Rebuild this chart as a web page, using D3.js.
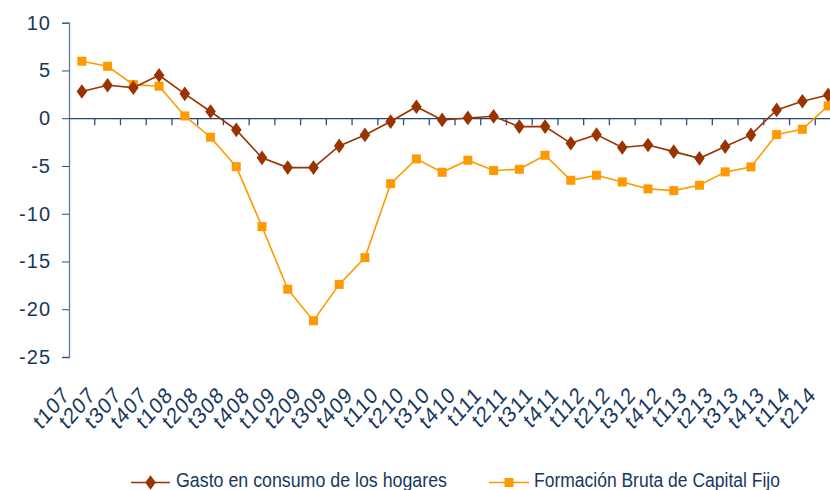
<html>
<head>
	<meta charset="utf-8">
	<style>
		body { margin: 0; background: #ffffff; }
		text { font-family: "Liberation Sans", Arial, sans-serif; fill: #17375e; }
	</style>
</head>
<body>

	<svg id="chart" height="490" width="830"></svg>

	<script src="https://cdnjs.cloudflare.com/ajax/libs/d3/7.8.5/d3.min.js"></script>
	<script>

		var quarters = ["t107","t207","t307","t407","t108","t208","t308","t408",
			"t109","t209","t309","t409","t110","t210","t310","t410",
			"t111","t211","t311","t411","t112","t212","t312","t412",
			"t113","t213","t313","t413","t114","t214"];

		var gastoHogares = [2.8, 3.45, 3.2, 4.5, 2.55, 0.7, -1.22, -4.15,
			-5.17, -5.17, -2.9, -1.75, -0.35, 1.2, -0.18, 0.03,
			0.2, -0.88, -0.88, -2.62, -1.72, -3.07, -2.8, -3.5,
			-4.2, -2.97, -1.75, 0.87, 1.78, 2.44];

		var formacionCapital = [5.97, 5.44, 3.52, 3.35, 0.24, -1.99, -5.07, -11.35,
			-17.9, -21.2, -17.4, -14.6, -6.85, -4.26, -5.66, -4.4,
			-5.48, -5.35, -3.88, -6.5, -5.97, -6.67, -7.4, -7.58,
			-7.02, -5.62, -5.1, -1.71, -1.16, 1.29];

		var yTicks = [10, 5, 0, -5, -10, -15, -20, -25];

		var seriesNames = ["Gasto en consumo de los hogares", "Formación Bruta de Capital Fijo"];

		var brown = "#993300", orange = "#ff9900", navy = "#17375e";
		var stretch = 1.16; // the original text is drawn a bit tall

		var svg = d3.select("#chart");

		// plot runs past the right edge, like the cropped original
		var x = d3.scaleBand().domain(quarters).range([69, 841]);
		var y = d3.scaleLinear().domain([-25, 10]).range([357, 22.7]);

		// y axis
		var yAxis = svg.append("g").attr("transform", "translate(69,0)")
			.call(d3.axisLeft(y).tickValues(yTicks).tickSize(7).tickPadding(11).tickFormat(d3.format("d")));
		yAxis.select(".domain").attr("stroke", "#5a7ca3").attr("stroke-width", 1.3);
		yAxis.selectAll(".tick line").attr("stroke", "#2a4d7a");
		yAxis.selectAll(".tick text").style("font-size", "20px").style("letter-spacing", "1px").attr("fill", navy)
			.text(function(d){ return d < 0 ? "-" + Math.abs(d) : d; });

		// category axis sitting on zero
		var xAxis = svg.append("g").attr("transform", "translate(0," + y(0) + ")")
			.call(d3.axisBottom(x).tickSize(0).tickFormat(""));
		xAxis.select(".domain").attr("stroke", "#1f4677").attr("stroke-width", 1.3);
		xAxis.selectAll(".tick").remove();
		xAxis.selectAll(".qtick")
			.data(quarters.slice(1))
			.enter()
			.append("line")
			.attr("class", "qtick")
			.attr("x1", function(d){ return x(d); })
			.attr("x2", function(d){ return x(d); })
			.attr("y1", 0).attr("y2", 7)
			.attr("stroke", "#2a4d7a").attr("stroke-width", 1.3);

		// rotated labels at the bottom
		svg.append("g").selectAll("text")
			.data(quarters)
			.enter()
			.append("text")
			.attr("text-anchor", "end")
			.attr("transform", function(d){ return "translate(" + (x(d) + x.bandwidth()/2 - 11) + ",396) scale(1," + stretch + ") rotate(-45)"; })
			.style("font-size", "19.5px")
			.style("letter-spacing", "1px")
			.text(function(d){ return d; });

		var line = d3.line()
			.x(function(d, i){ return x(quarters[i]) + x.bandwidth()/2; })
			.y(function(d){ return y(d); });

		// Formación line, squares
		svg.append("path").datum(formacionCapital)
			.attr("d", line).attr("fill", "none").attr("stroke", orange).attr("stroke-width", 1.6);
		svg.append("g").selectAll("rect")
			.data(formacionCapital)
			.enter()
			.append("rect")
			.attr("x", function(d, i){ return x(quarters[i]) + x.bandwidth()/2 - 4.5; })
			.attr("y", function(d){ return y(d) - 4.5; })
			.attr("width", 9).attr("height", 9)
			.attr("fill", orange);

		// Gasto line, diamonds
		var diamond = d3.symbol().type(d3.symbolDiamond).size(62);
		svg.append("path").datum(gastoHogares)
			.attr("d", line).attr("fill", "none").attr("stroke", brown).attr("stroke-width", 1.6);
		svg.append("g").selectAll("path")
			.data(gastoHogares)
			.enter()
			.append("path")
			.attr("d", diamond)
			.attr("transform", function(d, i){ return "translate(" + (x(quarters[i]) + x.bandwidth()/2) + "," + y(d) + ") scale(1.25,1)"; })
			.attr("fill", brown);

		// legend
		var legend = svg.append("g");
		legend.append("line").attr("x1", 131).attr("x2", 170).attr("y1", 482.5).attr("y2", 482.5)
			.attr("stroke", brown).attr("stroke-width", 1.6);
		legend.append("path").attr("d", diamond)
			.attr("transform", "translate(150.5,482.5) scale(1.25,1)").attr("fill", brown);
		legend.append("text").attr("transform", "translate(176,487) scale(1," + stretch + ")")
			.style("font-size", "17.8px").text(seriesNames[0]);

		legend.append("line").attr("x1", 489).attr("x2", 529).attr("y1", 482.5).attr("y2", 482.5)
			.attr("stroke", orange).attr("stroke-width", 1.6);
		legend.append("rect").attr("x", 504.5).attr("y", 478).attr("width", 9).attr("height", 9).attr("fill", orange);
		legend.append("text").attr("transform", "translate(534,487) scale(1," + stretch + ")")
			.style("font-size", "17.5px").text(seriesNames[1]);

	</script>
</body>
</html>
